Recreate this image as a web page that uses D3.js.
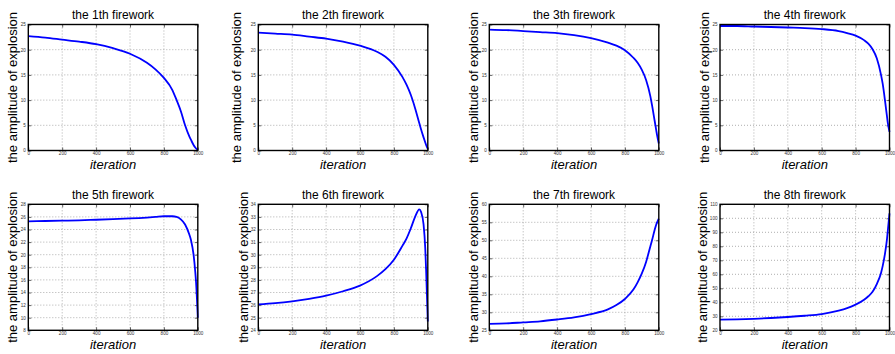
<!DOCTYPE html>
<html>
<head>
<meta charset="utf-8">
<script src="https://cdn.jsdelivr.net/npm/d3@7"></script>
<style>
  html, body { margin: 0; padding: 0; background: #fff; }
  svg { display: block; font-family: "Liberation Sans", Arial, Helvetica, sans-serif; }
</style>
</head>
<body>
<svg id="chart" width="895" height="354"></svg>
<script>
// ---- data ----
const iterations = [0,100,200,300,400,500,600,700,750,800,850,875,900,925,950,960,975,985,990,1000];
const titles = ["the 1th firework","the 2th firework","the 3th firework","the 4th firework",
                "the 5th firework","the 6th firework","the 7th firework","the 8th firework"];
const amp1 = [22.7,22.4,22.0,21.6,21.1,20.3,19.2,17.4,16.1,14.4,12.0,10.0,7.8,5.0,2.8,2.1,1.1,0.6,0.4,0.1];
const amp2 = [23.4,23.2,23.0,22.6,22.2,21.6,20.8,19.6,18.6,17.0,14.6,13.0,11.0,8.4,5.4,4.2,2.6,1.6,1.1,0.3];
const amp3 = [24.0,23.9,23.7,23.5,23.3,22.9,22.3,21.4,20.8,19.9,18.4,17.4,16.0,14.0,10.8,9.0,6.0,4.0,3.0,1.4];
const amp4 = [24.7,24.7,24.6,24.5,24.4,24.3,24.1,23.7,23.3,22.8,21.9,21.2,20.1,18.3,15.0,13.2,9.5,6.8,5.5,3.7];
const amp5 = [25.3,25.35,25.4,25.45,25.55,25.65,25.75,25.9,26.0,26.1,26.1,26.0,25.6,24.8,23.2,22.3,20.0,17.3,15.5,10.0];
const amp6 = [26.05,26.15,26.3,26.5,26.75,27.1,27.55,28.3,28.85,29.6,30.7,31.3,32.1,33.0,33.6,33.4,32.4,30.5,28.8,24.7];
const amp7 = [26.8,26.9,27.2,27.5,28.0,28.6,29.5,30.8,32.0,33.7,36.3,38.3,40.8,44.0,48.3,50.0,52.8,54.4,55.0,56.0];
const amp8 = [27.6,27.8,28.2,28.8,29.5,30.4,31.6,34.0,35.8,38.3,41.8,44.3,47.5,53.0,61.0,66.0,76.0,85.0,91.0,103.5];
const amplitudes = [amp1,amp2,amp3,amp4,amp5,amp6,amp7,amp8];
const xTicks = [0,200,400,600,800,1000];
const yRanges = [[0,25],[0,25],[0,25],[0,25],[8,28],[24,34],[25,60],[20,110]];
const yTicks = [
  [0,5,10,15,20,25],[0,5,10,15,20,25],[0,5,10,15,20,25],[0,5,10,15,20,25],
  [8,10,12,14,16,18,20,22,24,26,28],
  [24,25,26,27,28,29,30,31,32,33,34],
  [25,30,35,40,45,50,55,60],
  [20,30,40,50,60,70,80,90,100,110]
];

// ---- layout ----
const colLeft = [28.3, 258.3, 489.3, 720];
const rowTop = [24.5, 204.3];
const W = 169.5, H = 126;
const yLabelOffset = [-15.7, -21.6, -16, -15.7, -15.7, -15, -16, -17.7];

const svg = d3.select("#chart");

amplitudes.forEach((amp, i) => {
  const col = i % 4, row = Math.floor(i / 4);
  const x0 = colLeft[col], y0 = rowTop[row];
  const g = svg.append("g").attr("transform", `translate(${x0},${y0})`);
  const x = d3.scaleLinear().domain([0, 1000]).range([0, W]);
  const y = d3.scaleLinear().domain(yRanges[i]).range([H, 0]);

  // grid
  g.append("g").selectAll("line.vg").data(xTicks.slice(1, -1)).join("line")
    .attr("x1", d => x(d)).attr("x2", d => x(d)).attr("y1", 0).attr("y2", H)
    .attr("stroke", "#9a9a9a").attr("stroke-width", 0.8).attr("stroke-dasharray", "1,2");
  g.append("g").selectAll("line.hg").data(yTicks[i].slice(1, -1)).join("line")
    .attr("y1", d => y(d)).attr("y2", d => y(d)).attr("x1", 0).attr("x2", W)
    .attr("stroke", "#9a9a9a").attr("stroke-width", 0.8).attr("stroke-dasharray", "1,2");

  // axes (ticks inward)
  const xAxis = d3.axisBottom(x).tickValues(xTicks).tickSize(-3).tickPadding(1.6).tickFormat(d3.format("d"));
  const yAxis = d3.axisLeft(y).tickValues(yTicks[i]).tickSize(-3).tickPadding(2.5).tickFormat(d3.format("d"));
  const gx = g.append("g").attr("transform", `translate(0,${H})`).call(xAxis);
  const gy = g.append("g").call(yAxis);
  [gx, gy].forEach(a => {
    a.select(".domain").remove();
    a.selectAll(".tick line").attr("stroke", "#000").attr("stroke-width", 0.6);
    a.selectAll(".tick text").attr("font-size", 4.6).attr("fill", "#333");
  });
  // top/right inward ticks
  const gt = g.append("g").call(d3.axisTop(x).tickValues(xTicks).tickSize(-3).tickFormat(""));
  const gr = g.append("g").attr("transform", `translate(${W},0)`).call(d3.axisRight(y).tickValues(yTicks[i]).tickSize(-3).tickFormat(""));
  [gt, gr].forEach(a => {
    a.select(".domain").remove();
    a.selectAll(".tick line").attr("stroke", "#000").attr("stroke-width", 0.6);
  });

  // curve
  const line = d3.line().x((d, k) => x(iterations[k])).y(d => y(d)).curve(d3.curveMonotoneX);
  g.append("path").datum(amp).attr("d", line)
    .attr("fill", "none").attr("stroke", "#0000ff").attr("stroke-width", 1.8);

  // frame
  g.append("rect").attr("x", 0).attr("y", 0).attr("width", W).attr("height", H)
    .attr("fill", "none").attr("stroke", "#000").attr("stroke-width", 1.4);

  // title
  g.append("text").attr("x", W / 2).attr("y", -5.5).attr("text-anchor", "middle")
    .attr("font-size", 12).attr("fill", "#000").text(titles[i]);
  // x label
  g.append("text").attr("x", W / 2).attr("y", H + 18.8).attr("text-anchor", "middle")
    .attr("font-size", 13).attr("font-style", "italic").attr("fill", "#000").text("iteration");
  // y label
  g.append("text").attr("transform", `translate(${yLabelOffset[i] + 4.5},${H / 2}) rotate(-90)`)
    .attr("text-anchor", "middle").attr("font-size", 13).attr("fill", "#000")
    .text("the amplitude of explosion");
});
</script>
</body>
</html>
